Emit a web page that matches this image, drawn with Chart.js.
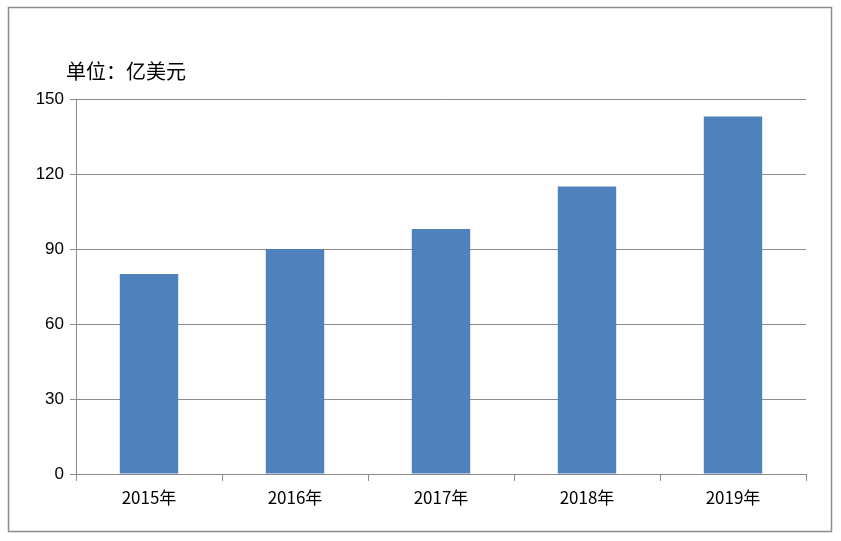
<!DOCTYPE html>
<html><head><meta charset="utf-8">
<script src="https://cdn.jsdelivr.net/npm/chart.js@4"></script>
<style>body{margin:0;background:#fff}#wrap{width:841px;height:541px}</style>
</head><body><div id="wrap"><canvas id="c"></canvas></div>
<script>
const years = ["2015年", "2016年", "2017年", "2018年", "2019年"];
const values = [80, 90, 98, 115, 143];
const yTicks = [0, 30, 60, 90, 120, 150];

// frame + unit label
const frame = {
  id: "frame",
  afterDraw(chart) {
    const ctx = chart.ctx;
    ctx.save();
    ctx.strokeStyle = "#8c8c8c";
    ctx.lineWidth = 1.5;
    ctx.strokeRect(8.5, 7.5, 823, 524);
    ctx.fillStyle = "#000";
    ctx.font = "20px 'Noto Sans CJK SC'";
    ctx.textBaseline = "middle";
    ctx.fillText("单位：亿美元", 66, 71);
    ctx.restore();
  }
};

new Chart(document.getElementById("c"), {
  type: "bar",
  data: {
    labels: years,
    datasets: [{ data: values, backgroundColor: "#4f81bd", barPercentage: 0.8, categoryPercentage: 0.5 }]
  },
  options: {
    responsive: true, maintainAspectRatio: false, animation: false,
    layout: { padding: { left: 10, right: 35, top: 99, bottom: 24 } },
    plugins: { legend: { display: false }, tooltip: { enabled: false } },
    scales: {
      x: {
        afterFit(s) { s.height = 43; },
        grid: { offset: true, drawOnChartArea: false, tickLength: 7, color: "#8c8c8c" },
        border: { color: "#8c8c8c" },
        ticks: { color: "#000", font: { size: 17, family: "'Noto Sans CJK SC'" }, padding: 6 }
      },
      y: {
        min: 0, max: 150,
        afterFit(s) { s.width = 66; },
        afterBuildTicks(s) { s.ticks = yTicks.map(v => ({ value: v })); },
        grid: { color: "#8c8c8c", tickLength: 6 },
        border: { color: "#8c8c8c" },
        ticks: { color: "#000", font: { size: 17, family: "'Liberation Sans'" }, padding: 6 }
      }
    }
  },
  plugins: [frame]
});
</script></body></html>
